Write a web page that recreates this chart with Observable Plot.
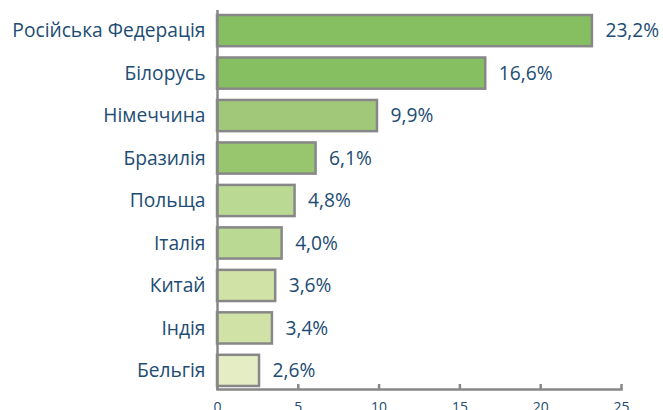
<!DOCTYPE html>
<html><head><meta charset="utf-8">
<script src="https://cdn.jsdelivr.net/npm/d3@7"></script>
<script src="https://cdn.jsdelivr.net/npm/@observablehq/plot@0.6"></script>
<style>body{margin:0;background:#fff;overflow:hidden}</style>
</head><body><div id="chart"></div>
<script>
const countries = ["Російська Федерація","Білорусь","Німеччина","Бразилія","Польща","Італія","Китай","Індія","Бельгія"];
const shares = [23.2,16.6,9.9,6.1,4.8,4.0,3.6,3.4,2.6];
const shareLabels = ["23,2%","16,6%","9,9%","6,1%","4,8%","4,0%","3,6%","3,4%","2,6%"];
const xTicks = [0,5,10,15,20,25];
const barColors = ["#86bf62","#86bf62","#a0c878","#98c66f","#bad993","#bad993","#d1e2a7","#d1e2a7","#e4edc4"];

const data = countries.map((c,i)=>({country:c, value:shares[i], label:shareLabels[i]}));
const textColor = "#214c73";
const grey = "#878787";
const H = 410, mT = 12, mB = 21;
const innerH = H - mT - mB;

const chart = Plot.plot({
  width: 663, height: H,
  marginLeft: 217, marginRight: 42, marginTop: mT, marginBottom: mB,
  style: {fontFamily: "'Open Sans', sans-serif", overflow: "visible", background: "#fff"},
  x: {domain: [0,25], axis: null},
  y: {domain: countries, axis: null, paddingInner: 0.266, paddingOuter: 0.071, round: false},
  color: {domain: countries, range: barColors},
  marks: [
    Plot.barX(data, {y: "country", x: "value", fill: "country", stroke: grey, strokeWidth: 2.5}),
    Plot.text(data, {y: "country", x: "value", text: "label", dx: 13, textAnchor: "start", fill: textColor, fontSize: 19.2}),
    Plot.text(data, {y: "country", x: 0, text: "country", dx: -12, textAnchor: "end", fill: textColor, fontSize: 19.2}),
    Plot.ruleX([0], {stroke: grey, strokeWidth: 2.5, insetTop: -2, insetBottom: -1}),
    Plot.frame({anchor: "bottom", stroke: grey, strokeWidth: 2.5}),
    Plot.ruleX(xTicks, {x: d=>d, stroke: grey, strokeWidth: 2.5, insetTop: innerH - 5}),
    Plot.axisX({ticks: xTicks, tickSize: 0, tickPadding: 13, fill: textColor, fontSize: 14, label: null, tickFormat: d=>String(d)})
  ]
});
document.getElementById("chart").appendChild(chart);
</script></body></html>
